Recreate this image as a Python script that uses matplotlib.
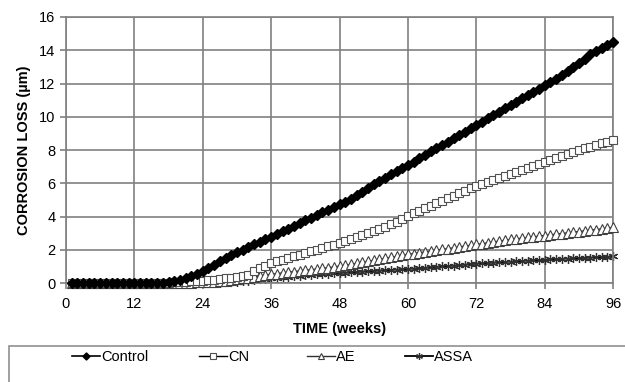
import matplotlib
matplotlib.use("Agg")
import matplotlib.pyplot as plt
from matplotlib.patches import Rectangle

plt.rcParams['font.family'] = ['Liberation Sans', 'DejaVu Sans']

# weekly readings, week 1 to 96
weeks = list(range(1, 97))

control = [0.0] * 16 + [
    0.02, 0.05, 0.1, 0.18, 0.28, 0.4, 0.55, 0.7, 0.9, 1.1, 1.3, 1.5, 1.68, 1.85,
    2.0, 2.15, 2.32, 2.48, 2.64, 2.8, 2.96, 3.12, 3.28, 3.45, 3.61, 3.77, 3.93,
    4.1, 4.26, 4.42, 4.58, 4.75, 4.9, 5.06, 5.28, 5.5, 5.72, 5.95, 6.15, 6.34,
    6.53, 6.72, 6.91, 7.1, 7.3, 7.5, 7.7, 7.92, 8.1, 8.3, 8.5, 8.7, 8.9, 9.1,
    9.3, 9.5, 9.7, 9.9, 10.1, 10.3, 10.5, 10.7, 10.9, 11.1, 11.3, 11.5, 11.7,
    11.9, 12.1, 12.3, 12.5, 12.75, 13.0, 13.25, 13.5, 13.75, 13.95, 14.15,
    14.3, 14.5]

cn = [0.0] * 16 + [
    0.02, 0.03, 0.05, 0.06, 0.08, 0.1, 0.12, 0.15, 0.18, 0.21, 0.25, 0.29, 0.33,
    0.38, 0.43, 0.5, 0.7, 0.9, 1.05, 1.18, 1.3, 1.41, 1.51, 1.61, 1.71, 1.8,
    1.9, 2.0, 2.1, 2.2, 2.3, 2.42, 2.53, 2.64, 2.76, 2.88, 3.0, 3.12, 3.25, 3.4,
    3.55, 3.7, 3.87, 4.05, 4.2, 4.35, 4.5, 4.65, 4.8, 4.95, 5.1, 5.25, 5.4,
    5.55, 5.7, 5.85, 5.98, 6.1, 6.22, 6.34, 6.46, 6.58, 6.7, 6.82, 6.94, 7.06,
    7.18, 7.3, 7.42, 7.54, 7.66, 7.78, 7.9, 8.0, 8.1, 8.2, 8.3, 8.4, 8.5, 8.6]

ae = [0.0] * 20 + [
    0.02, 0.03, 0.04, 0.05, 0.07, 0.09, 0.12, 0.15, 0.19, 0.23, 0.28, 0.33,
    0.38, 0.43, 0.48, 0.53, 0.57, 0.61, 0.65, 0.69, 0.73, 0.77, 0.8, 0.84,
    0.88, 0.92, 0.97, 1.02, 1.07, 1.12, 1.18, 1.24, 1.3, 1.36, 1.42, 1.48,
    1.54, 1.6, 1.66, 1.72, 1.77, 1.82, 1.87, 1.92, 1.97, 2.02, 2.07, 2.12,
    2.17, 2.22, 2.27, 2.32, 2.37, 2.42, 2.47, 2.52, 2.57, 2.62, 2.66, 2.7,
    2.74, 2.78, 2.82, 2.86, 2.9, 2.94, 2.98, 3.02, 3.06, 3.1, 3.14, 3.18,
    3.22, 3.26, 3.3, 3.35]

assa = [0.0] * 26 + [
    0.02, 0.04, 0.06, 0.09, 0.12, 0.15, 0.19, 0.23, 0.27, 0.3, 0.33, 0.36,
    0.39, 0.42, 0.45, 0.48, 0.5, 0.53, 0.55, 0.57, 0.59, 0.61, 0.63, 0.65,
    0.67, 0.69, 0.71, 0.73, 0.75, 0.77, 0.79, 0.81, 0.83, 0.85, 0.87, 0.9,
    0.92, 0.95, 0.97, 1.0, 1.02, 1.05, 1.08, 1.11, 1.14, 1.17, 1.19, 1.21,
    1.23, 1.25, 1.27, 1.29, 1.31, 1.33, 1.35, 1.37, 1.38, 1.4, 1.42, 1.44,
    1.46, 1.47, 1.49, 1.5, 1.52, 1.53, 1.55, 1.56, 1.58, 1.6]

x_ticks = list(range(0, 97, 12))
y_ticks = list(range(0, 17, 2))

fig = plt.figure(figsize=(6.25, 3.82), dpi=100)
ax = fig.add_axes([0.1056, 0.259, 0.8755, 0.6965])

grid_col = '#808080'

# plot the four series (Excel style markers)
lines = []
lines += ax.plot(weeks, control, color='black', lw=1.2, marker='D', ms=4.8,
                 mfc='black', mec='black', label='Control', zorder=5, clip_on=False)
lines += ax.plot(weeks, cn, color='black', lw=1.0, marker='s', ms=5.8,
                 mfc='white', mec='#505050', mew=0.8, label='CN', zorder=4, clip_on=False)
lines += ax.plot(weeks, ae, color='#303030', lw=1.0, marker='^', ms=6.5,
                 mfc='white', mec='#404040', mew=0.8, label='AE', zorder=3, clip_on=False)
lines += ax.plot(weeks, assa, color='black', lw=1.3, marker=(6, 2, 0), ms=6.5,
                 mec='#303030', mew=0.9, label='ASSA', zorder=2, clip_on=False)

ax.set_xlim(0, 96)
ax.set_ylim(0, 16)
ax.set_xticks(x_ticks)
ax.set_yticks(y_ticks)
ax.grid(True, color=grid_col, lw=1.2)
ax.set_axisbelow(True)
for s in ax.spines.values():
    s.set_color(grid_col)
    s.set_linewidth(1.2)
ax.tick_params(axis='both', labelsize=10.5, color=grid_col, length=4, width=1.2)
ax.tick_params(axis='x', pad=6)

ax.set_xlabel('TIME (weeks)', fontsize=10.5, fontweight='bold', labelpad=8)
ax.set_ylabel('CORROSION LOSS (µm)', fontsize=10.5, fontweight='bold', labelpad=6)

# legend box at the bottom, one entry per slot like excel
fig.patches.append(Rectangle((9 / 625, -0.1), 1.0, 0.1 + 36 / 382,
                             transform=fig.transFigure, fill=False,
                             edgecolor='#909090', lw=1.2))
slots = [72, 199, 307, 405]
for ln, px in zip(lines, slots):
    fig.legend(handles=[ln], loc='center left',
               bbox_to_anchor=(px / 625, 1 - 357 / 382), frameon=False,
               fontsize=10.5, handlelength=1.9, handletextpad=0.1,
               borderpad=0, borderaxespad=0, markerscale=0.75)

fig.savefig('out.png', dpi=100)
